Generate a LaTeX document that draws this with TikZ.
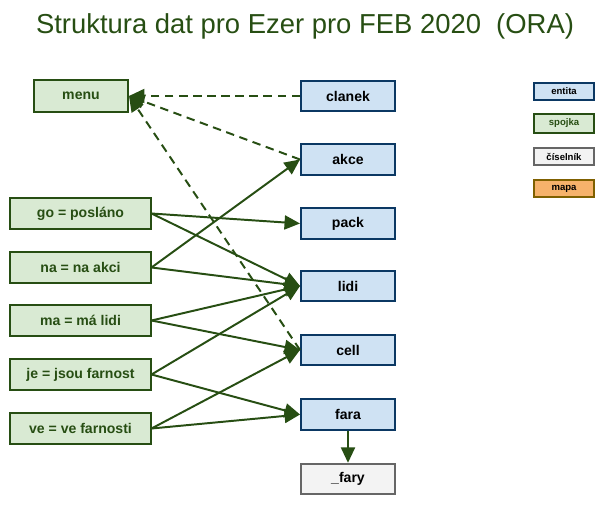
\documentclass[tikz,border=0pt]{standalone}
\usepackage{fontspec}
\setmainfont{Liberation Sans}
\usepackage{xcolor}
\usetikzlibrary{arrows.meta}
\definecolor{zelena}{HTML}{274E13}
\definecolor{zelenab}{HTML}{D9EAD3}
\definecolor{modra}{HTML}{0B3863}
\definecolor{modrab}{HTML}{CFE2F3}
\definecolor{seda}{HTML}{666666}
\definecolor{sedab}{HTML}{F3F3F3}
\definecolor{hneda}{HTML}{7F6000}
\definecolor{oranzb}{HTML}{F6B26B}
\tikzset{
  spojka/.style={draw=zelena, fill=zelenab, line width=1.4pt, text=zelena,
    font=\fontsize{10}{12}\selectfont\bfseries, minimum width=3.5cm, minimum height=0.78cm},
  entita/.style={draw=modra, fill=modrab, line width=1.4pt, text=black,
    font=\fontsize{10}{12}\selectfont\bfseries, minimum width=2.35cm, minimum height=0.76cm},
  ciselnik/.style={entita, draw=seda, fill=sedab},
  legenda/.style={line width=1.4pt, font=\fontsize{6.8}{8}\selectfont\bfseries,
    minimum width=1.5cm, minimum height=0.44cm},
  sipka/.style={draw=zelena, line width=1.4pt, -{Triangle[length=11pt,width=10pt]}},
  carkovana/.style={sipka, dashed, dash pattern=on 6pt off 4pt}
}
\begin{document}
\begin{tikzpicture}[x=0.025cm,y=-0.025cm]
\useasboundingbox (0,0) rectangle (603,505);
\node (nadpis) at (305,26) [text=zelena, font=\fontsize{19.5}{23}\selectfont]{Struktura dat pro Ezer pro FEB 2020\ \ (ORA)};
% entity
\node[entita] (clanek) at (348,96) {clanek};
\node[entita] (akce) at (348,159.5) {akce};
\node[entita] (pack) at (348,223.5) {pack};
\node[entita] (lidi) at (348,286) {lidi};
\node[entita] (cell) at (348,350) {cell};
\node[entita] (fara) at (348,414.5) {fara};
\node[ciselnik] (fary) at (348,479) {\_fary};
% spojky
\node[spojka, minimum width=2.35cm] (menu) at (81,96) {menu};
\node[spojka] (go) at (80.5,213.5) {go = posláno};
\node[spojka] (na) at (80.5,267.5) {na = na akci};
\node[spojka] (ma) at (80.5,320.5) {ma = má lidi};
\node[spojka] (je) at (80.5,374.5) {je = jsou farnost};
\node[spojka] (ve) at (80.5,428.5) {ve = ve farnosti};
% legenda
\node[legenda, draw=modra, fill=modrab] (lentita) at (564,91.5) {entita};
\node[legenda, draw=zelena, fill=zelenab, text=zelena] (lspojka) at (564,123.5) {spojka};
\node[legenda, draw=seda, fill=sedab] (lciselnik) at (564,156.5) {číselník};
\node[legenda, draw=hneda, fill=oranzb] (lmapa) at (564,188.5) {mapa};
% vazby
\draw[carkovana] (clanek.west) -- (menu.east);
\draw[carkovana] (akce.west) -- (menu.east);
\draw[carkovana] (cell.west) -- (menu.east);
\draw[sipka] (go.east) -- (pack.west);
\draw[sipka] (go.east) -- (lidi.west);
\draw[sipka] (na.east) -- (akce.west);
\draw[sipka] (na.east) -- (lidi.west);
\draw[sipka] (ma.east) -- (lidi.west);
\draw[sipka] (ma.east) -- (cell.west);
\draw[sipka] (je.east) -- (lidi.west);
\draw[sipka] (je.east) -- (fara.west);
\draw[sipka] (ve.east) -- (cell.west);
\draw[sipka] (ve.east) -- (fara.west);
\draw[sipka] (fara.south) -- (fary.north);
\end{tikzpicture}
\end{document}
